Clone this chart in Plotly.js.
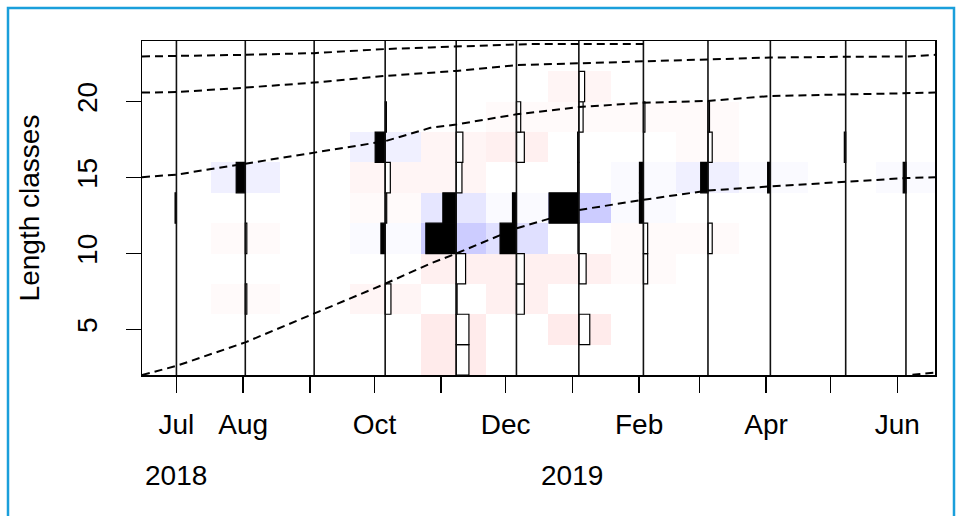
<!DOCTYPE html>
<html>
<head>
<meta charset="utf-8">
<script src="https://cdn.plot.ly/plotly-3.0.1.min.js"></script>
<style>html,body{margin:0;padding:0;background:#fff;}#chart{width:959px;height:516px;}</style>
</head>
<body>
<div id="chart"></div>
<script>
// ---- data ----
const sampleDates = ['2018-07-01','2018-08-02','2018-09-03','2018-10-06','2018-11-08','2018-12-06',
                     '2019-01-04','2019-02-03','2019-03-05','2019-04-03','2019-05-08','2019-06-05'];
const midLengths = [3,5,7,9,11,13,15,17,19,21,23];

// restructured frequencies per sample (bins 2-4 ... 22-24)
const rcJul = [0,0,0,0,0,0.045,0,0,0,0,0];
const rcAug = [0,0,-0.05,0,-0.05,0,0.30,0,0,0,0];
const rcSep = [0,0,0,0,0,0,0,0,0,0,0];
const rcOct = [0,0,-0.19,0,0.14,-0.05,-0.17,0.33,-0.04,0,0];
const rcNov = [-0.42,-0.42,-0.03,-0.31,1.0,0.44,-0.19,-0.22,0,0,0];
const rcDec = [0,0,-0.26,-0.26,0.54,0.13,0,-0.26,-0.14,0,0];
const rcJan = [0,-0.36,0,-0.24,0.03,0.98,0.04,0.04,-0.14,-0.19,0];
const rcFeb = [0,0,0,-0.14,-0.14,0.13,0.13,0,-0.05,0,0];
const rcMar = [0,0,0,0,-0.14,0,0.24,-0.14,-0.05,0,0];
const rcApr = [0,0,0,0,0,0,0.09,0,0,0,0];
const rcMay = [0,0,0,0,0,0,0,0.045,0,0,0];
const rcJun = [0,0,0,0,0,0,0.09,0,0,0,0];

const monthTicks = ['2018-07-01','2018-08-01','2018-09-01','2018-10-01','2018-11-01','2018-12-01',
                    '2019-01-01','2019-02-01','2019-03-01','2019-04-01','2019-05-01','2019-06-01'];
const monthLabels = ['Jul','Aug','','Oct','','Dec','','Feb','','Apr','','Jun'];
const yearTicks = ['2018-07-01','2019-01-01'];
const yearLabels = ['2018','2019'];
const lengthTicks = [5,10,15,20];

// growth curves (cohorts)
const curveDates = ['2018-06-15','2018-07-01','2018-08-02','2018-09-03','2018-10-06','2018-10-27','2018-11-08',
                    '2018-12-06','2019-01-04','2019-02-03','2019-03-05','2019-04-03','2019-05-08','2019-06-05','2019-06-18 12:00'];
const cohortA = [2.0,2.6,4.15,6.03,8.01,9.34,10.0,11.66,12.87,13.54,14.15,14.42,14.75,14.97,15.03];
const cohortB = [15.03,15.2,15.92,16.67,17.4,18.28,18.5,19.17,19.65,19.93,20.05,20.38,20.49,20.53,20.6];
const cohortC = [20.6,20.64,20.93,21.26,21.7,21.88,22.03,22.41,22.54,22.63,22.81,22.91,22.96,22.98,23.09];
const cohortDDates = ['2018-06-15','2018-07-01','2018-08-02','2018-09-03','2018-10-06','2018-10-27','2018-11-08','2018-12-06','2018-12-12','2019-01-04','2019-02-03'];
const cohortD = [22.98,23.0,23.09,23.2,23.47,23.58,23.64,23.75,23.8,23.8,23.8];
const cohortEDates = ['2019-06-08','2019-06-18 12:00'];
const cohortE = [2.02,2.15];

// ---- build ----
const rcounts = [rcJul,rcAug,rcSep,rcOct,rcNov,rcDec,rcJan,rcFeb,rcMar,rcApr,rcMay,rcJun];
const z = midLengths.map((_, j) => rcounts.map(col => col[j]));
const DAY = 86400000;
const HIST_SC = 14.1 * DAY;

// 21-step palette red -> white -> blue (as in the reference image)
const NCOL = 21, cs = [];
for (let k = 0; k < NCOL; k++) {
  const t = k / (NCOL - 1);
  let r, g, b;
  if (t <= 0.5) { r = 255; g = b = Math.round(255 * (0.8 + 0.4 * t)); }
  else { r = g = Math.round(255 * (1 - 0.4 * (t - 0.5))); b = 255; }
  const c = `rgb(${r},${g},${b})`;
  cs.push([k / NCOL, c], [(k + 1) / NCOL, c]);
}

const traces = [];
traces.push({
  type: 'heatmap', x: sampleDates, y: midLengths, z: z,
  zmin: -1, zmax: 1, zsmooth: false, showscale: false, hoverinfo: 'skip', colorscale: cs
});

// sample lines
const lx = [], ly = [];
sampleDates.forEach(d => { lx.push(d, d, null); ly.push(2, 24, null); });
traces.push({type:'scatter', mode:'lines', x:lx, y:ly, line:{color:'#111', width:1.6}, hoverinfo:'skip'});

// histogram bars
const by = [], bx = [], bb = [], bc = [];
rcounts.forEach((col, i) => {
  col.forEach((v, j) => {
    if (v === 0) return;
    by.push(midLengths[j]); bb.push(sampleDates[i]); bx.push(-v * HIST_SC);
    bc.push(v > 0 ? 'black' : 'white');
  });
});
traces.push({type:'bar', orientation:'h', y:by, x:bx, base:bb, width:2,
  marker:{color:bc, line:{color:'black', width:1.2}}, hoverinfo:'skip'});

// growth curves
const dashLine = {color:'black', width:2, dash:'8px,5px'};
[[curveDates,cohortA],[curveDates,cohortB],[curveDates,cohortC],[cohortDDates,cohortD],[cohortEDates,cohortE]]
  .forEach(([xs, ys]) => traces.push({type:'scatter', mode:'lines', x:xs, y:ys, line:dashLine, hoverinfo:'skip'}));

const fnt = {family:'"Liberation Sans", Arial, sans-serif', size:28, color:'black'};
const layout = {
  width: 959, height: 516,
  margin: {l:142, r:24, t:41, b:141, pad:0},
  paper_bgcolor:'white', plot_bgcolor:'white',
  showlegend:false, barmode:'overlay', font: fnt,
  xaxis: {type:'date', range:['2018-06-15','2019-06-18 12:00'], tickmode:'array',
    tickvals: monthTicks, ticktext: monthLabels, tickangle:0,
    ticks:'outside', ticklen:16, tickwidth:1.5, tickcolor:'black',
    showgrid:false, zeroline:false, showline:true, mirror:true, linecolor:'black', linewidth:1.5,
    ticklabelstandoff: 8, tickfont: fnt},
  yaxis: {range:[2,24], tickmode:'array', tickvals: lengthTicks, ticktext: lengthTicks.map(String),
    tickangle:-90, ticks:'outside', ticklen:15, tickwidth:1.5, tickcolor:'black',
    showgrid:false, zeroline:false, showline:true, mirror:true, linecolor:'black', linewidth:1.5,
    ticklabelstandoff: 17, tickfont: fnt,
    title:{text:'Length classes', font: fnt, standoff: 24}},
  annotations: yearTicks.map((d, k) => ({xref:'x', yref:'paper', x:d, y:(375-476)/334,
    text: yearLabels[k], showarrow:false, font: fnt, xanchor:'center', yanchor:'middle'})),
  shapes: [{type:'rect', xref:'paper', yref:'paper', x0:(8-142)/793, x1:(954-142)/793,
    y0:(375-540)/334, y1:(375-8)/334, line:{color:'#1a9fdb', width:2.5}, fillcolor:'rgba(0,0,0,0)', layer:'above'}]
};
Plotly.newPlot('chart', traces, layout, {staticPlot:true, displayModeBar:false});
</script>
</body>
</html>
